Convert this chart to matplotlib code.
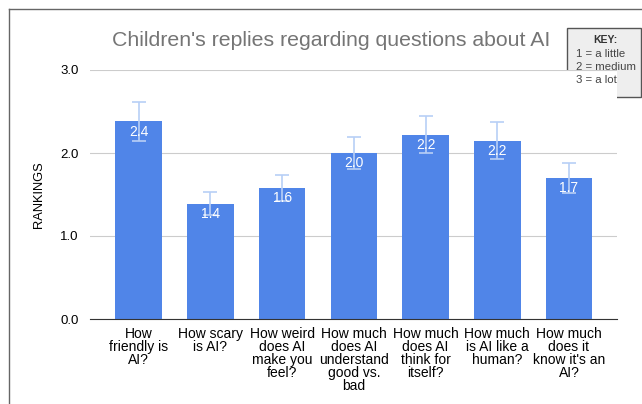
import matplotlib.pyplot as plt
import numpy as np

cats = ["How\nfriendly is\nAI?", "How scary\nis AI?", "How weird\ndoes AI\nmake you\nfeel?",
        "How much\ndoes AI\nunderstand\ngood vs.\nbad", "How much\ndoes AI\nthink for\nitself?",
        "How much\nis AI like a\nhuman?", "How much\ndoes it\nknow it's an\nAI?"]
vals = [2.38, 1.39, 1.58, 2.0, 2.22, 2.15, 1.70]
errs = [0.235, 0.14, 0.16, 0.19, 0.22, 0.22, 0.18]
labels = ["2.4", "1.4", "1.6", "2.0", "2.2", "2.2", "1.7"]

plt.rcParams['font.family'] = ['Liberation Sans', 'DejaVu Sans']

fig = plt.figure(figsize=(6.42, 4.04), dpi=100)
ax = fig.add_axes([90/642, 1 - 319/404, 527/642, 249/404])

x = np.arange(len(vals))
ax.bar(x, vals, width=0.65, color='#5085e8', zorder=2)
ax.errorbar(x, vals, yerr=errs, fmt='none', ecolor='#b8cff6', elinewidth=1.2,
            capsize=4.8, capthick=1.2, zorder=3)
for xi, v, l in zip(x, vals, labels):
    ax.text(xi, v - 0.04, l, ha='center', va='top', color='white', fontsize=10, zorder=4)

ax.set_xlim(-0.68, 6.67)
ax.set_ylim(0, 3.0)
ax.set_yticks([0, 1, 2, 3])
ax.set_yticklabels(['0.0', '1.0', '2.0', '3.0'])
ax.grid(axis='y', color='#cccccc', lw=0.8, zorder=0)
for s in ['top', 'right', 'left']:
    ax.spines[s].set_visible(False)
ax.spines['bottom'].set_color('#333333')
ax.tick_params(axis='y', length=0, labelsize=9.5, pad=8)
ax.tick_params(axis='x', length=0, labelsize=10, pad=6)
ax.set_xticks(x)
ax.set_xticklabels(cats, linespacing=0.9, va='top')
ax.set_ylabel('RANKINGS', fontsize=9.3, labelpad=11)

fig.text(331/642, 1 - 40/404, "Children's replies regarding questions about AI",
         ha='center', va='center', fontsize=15.3, color='#757575')

# key box
fig.text(605/642, 1 - 40/404, 'KEY:', ha='center', va='center', fontsize=7.5,
         color='#333333', fontweight='bold')
fig.text(576/642, 1 - 67/404, '1 = a little\n2 = medium\n3 = a lot', ha='left', va='center',
         fontsize=8.2, color='#444444', linespacing=1.4)
box = plt.Rectangle((567/642, 1 - 97/404), 74/642, 69/404, transform=fig.transFigure,
                    facecolor='#eeeeee', edgecolor='#555555', lw=1, zorder=-1)
fig.patches.append(box)

# frame of the screenshot
fig.add_artist(plt.Line2D([9/642, 9/642], [0, 1 - 9/404], transform=fig.transFigure,
                          color='#666666', lw=1))
fig.add_artist(plt.Line2D([9/642, 1], [1 - 9/404, 1 - 9/404], transform=fig.transFigure,
                          color='#666666', lw=1))

fig.savefig('out.png', dpi=100)
